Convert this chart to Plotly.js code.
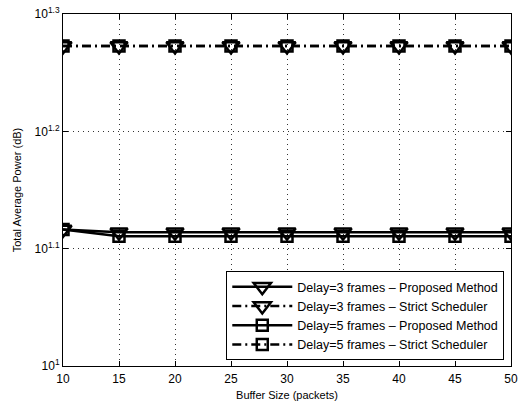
<!DOCTYPE html>
<html>
<head>
<meta charset="utf-8">
<script src="https://cdn.plot.ly/plotly-3.0.1.min.js"></script>
<style>
  html, body { margin: 0; padding: 0; background: #fff; }
  #chart { width: 530px; height: 408px; }
</style>
</head>
<body>
<div id="chart"></div>
<script>
// Buffer sizes (packets)
const bufferSize = [10, 15, 20, 25, 30, 35, 40, 45, 50];

// Total average power per scheme
const delay3Proposed = [13.07, 13.00, 13.00, 13.00, 13.00, 13.00, 13.00, 13.00, 13.00];
const delay3Strict   = [18.74, 18.74, 18.74, 18.74, 18.74, 18.74, 18.74, 18.74, 18.74];
const delay5Proposed = [13.07, 12.90, 12.90, 12.90, 12.90, 12.90, 12.90, 12.90, 12.90];
const delay5Strict   = [18.74, 18.74, 18.74, 18.74, 18.74, 18.74, 18.74, 18.74, 18.74];

const seriesNames = [
  'Delay=3 frames \u2013 Proposed Method',
  'Delay=3 frames \u2013 Strict Scheduler',
  'Delay=5 frames \u2013 Proposed Method',
  'Delay=5 frames \u2013 Strict Scheduler'
];

const yTickVals = [10, Math.pow(10, 1.1), Math.pow(10, 1.2), Math.pow(10, 1.3)];
const yTickText = ['10<sup>1</sup>', '10<sup>1.1</sup>', '10<sup>1.2</sup>', '10<sup>1.3</sup>'];

const dashDot = '9px,4px,2px,4px';

function series(y, name, dash, symbol, size) {
  return {
    x: bufferSize, y: y, name: name, type: 'scatter', mode: 'lines+markers',
    line: { color: '#000', width: 2.5, dash: dash },
    marker: { symbol: symbol, size: size, color: 'rgba(0,0,0,0)', line: { color: '#000', width: 2.5 } }
  };
}

const data = [
  series(delay3Proposed, seriesNames[0], 'solid', 'triangle-down', 15),
  series(delay3Strict, seriesNames[1], dashDot, 'triangle-down', 15),
  series(delay5Proposed, seriesNames[2], 'solid', 'square', 11),
  series(delay5Strict, seriesNames[3], dashDot, 'square', 11)
];

const axisCommon = {
  showline: true, linecolor: '#000', linewidth: 1, mirror: 'ticks',
  ticks: 'inside', ticklen: 5, tickcolor: '#000',
  showgrid: true, gridcolor: '#333', griddash: '1px,4px', gridwidth: 1,
  zeroline: false,
  tickfont: { family: 'Liberation Sans, Arial, sans-serif', size: 12, color: '#000' }
};

const layout = {
  width: 530, height: 408,
  margin: { l: 63, r: 19, t: 14, b: 42 },
  paper_bgcolor: '#fff', plot_bgcolor: '#fff',
  font: { family: 'Liberation Sans, Arial, sans-serif', size: 11, color: '#000' },
  showlegend: true,
  xaxis: Object.assign({}, axisCommon, {
    range: [10, 50], tickvals: bufferSize, ticklabelstandoff: 2,
    title: { text: 'Buffer Size (packets)', standoff: 5, font: { size: 11 } }
  }),
  yaxis: Object.assign({}, axisCommon, {
    type: 'log', range: [1, 1.3], tickvals: yTickVals, ticktext: yTickText,
    title: { text: 'Total Average Power (dB)', standoff: 10, font: { size: 11 } }
  }),
  legend: {
    x: 0.985, y: 0.017, xanchor: 'right', yanchor: 'bottom',
    bgcolor: '#fff', bordercolor: '#000', borderwidth: 1,
    font: { size: 12.5 }, itemwidth: 60, tracegroupgap: 0
  }
};

Plotly.newPlot('chart', data, layout, { staticPlot: true });
</script>
</body>
</html>
